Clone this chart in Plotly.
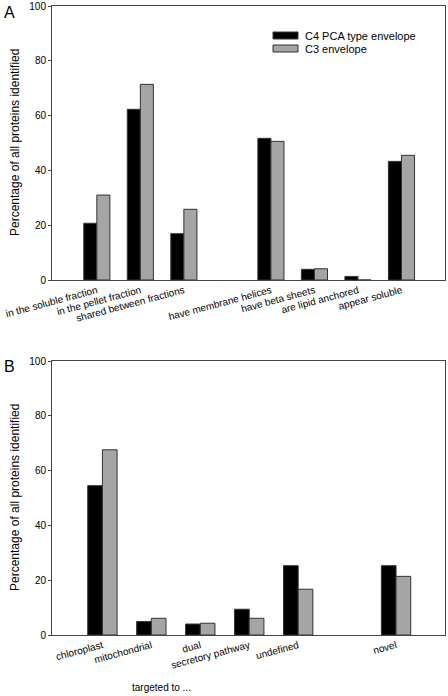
import plotly.graph_objects as go

# ---- data ----
series_names = ["C4 PCA type envelope", "C3 envelope"]

cats_a = ["in the soluble fraction", "in the pellet fraction", "shared between fractions",
          "have membrane helices", "have beta sheets", "are lipid anchored", "appear soluble"]
c4_a = [20.7, 62.3, 16.9, 51.7, 3.9, 1.3, 43.3]
c3_a = [31.0, 71.4, 25.8, 50.6, 4.1, 0.0, 45.5]

cats_b = ["chloroplast", "mitochondrial", "dual", "secretory pathway", "undefined", "novel"]
c4_b = [54.5, 4.9, 4.0, 9.4, 25.3, 25.3]
c3_b = [67.6, 6.1, 4.3, 6.1, 16.7, 21.4]

y_ticks = [0, 20, 40, 60, 80, 100]

# category order with an empty slot (gap) between groups
order_a = cats_a[:3] + [" "] + cats_a[3:]
order_b = cats_b[:5] + ["  "] + cats_b[5:]

colors = ["#000000", "#a5a5a5"]
FONT = "Arial, Liberation Sans, sans-serif"
W, H = 448, 696


def px(x):
    return x / W


def py(y):
    return 1 - y / H


fig = go.Figure()
for name, vals, col in [(series_names[0], c4_a, colors[0]), (series_names[1], c3_a, colors[1])]:
    fig.add_trace(go.Bar(x=cats_a, y=vals, name=name, marker=dict(color=col, line=dict(color="#333333", width=1)),
                         xaxis="x", yaxis="y", showlegend=False))
for name, vals, col in [(series_names[0], c4_b, colors[0]), (series_names[1], c3_b, colors[1])]:
    fig.add_trace(go.Bar(x=cats_b, y=vals, name=name, marker=dict(color=col, line=dict(color="#333333", width=1)),
                         xaxis="x2", yaxis="y2", showlegend=False))

axis_common = dict(showline=True, linecolor="#444444", linewidth=1, mirror=True, showgrid=False,
                   zeroline=False, automargin=False, tickfont=dict(family=FONT, size=10, color="black"))

fig.update_layout(
    width=W, height=H, margin=dict(l=0, r=0, t=0, b=0, autoexpand=False),
    paper_bgcolor="white", plot_bgcolor="white",
    barmode="group", bargap=0.4, bargroupgap=0,
    font=dict(family=FONT, color="black"),
    xaxis=dict(domain=[px(52), px(445)], anchor="y", type="category", categoryorder="array", categoryarray=order_a,
               range=[-1.03, 8.0], ticks="", tickangle=-15, **axis_common),
    yaxis=dict(domain=[py(280), py(6)], anchor="x", range=[0, 100], tickvals=y_ticks,
               ticks="outside", ticklen=3, tickcolor="#444444", **axis_common),
    xaxis2=dict(domain=[px(52), px(445)], anchor="y2", type="category", categoryorder="array", categoryarray=order_b,
                range=[-1.03, 7.0], ticks="", tickangle=-15, **axis_common),
    yaxis2=dict(domain=[py(635), py(361)], anchor="x2", range=[0, 100], tickvals=y_ticks,
                ticks="outside", ticklen=3, tickcolor="#444444", **axis_common),
)

ann = []
for yc in [143, 498]:
    ann.append(dict(x=px(15), y=py(yc), xref="paper", yref="paper", text="Percentage of all proteins identified",
                    textangle=-90, showarrow=False, font=dict(family=FONT, size=12, color="black"),
                    xanchor="center", yanchor="middle"))
ann.append(dict(x=px(9), y=py(13), xref="paper", yref="paper", text="A", showarrow=False,
                font=dict(family=FONT, size=16, color="black"), xanchor="center", yanchor="middle"))
ann.append(dict(x=px(9), y=py(367), xref="paper", yref="paper", text="B", showarrow=False,
                font=dict(family=FONT, size=16, color="black"), xanchor="center", yanchor="middle"))
ann.append(dict(x=px(161), y=py(687), xref="paper", yref="paper", text="targeted to ...", showarrow=False,
                font=dict(family=FONT, size=10, color="black"), xanchor="center", yanchor="middle"))

# legend (panel A)
shapes = []
for i, (name, col) in enumerate(zip(series_names, colors)):
    yc = 35.5 + i * 13
    shapes.append(dict(type="rect", xref="paper", yref="paper", x0=px(273), x1=px(298),
                       y0=py(yc + 3.5), y1=py(yc - 3.5), fillcolor=col,
                       line=dict(color="#333333", width=1)))
    ann.append(dict(x=px(303), y=py(yc), xref="paper", yref="paper", text=name, showarrow=False,
                    font=dict(family=FONT, size=11, color="black"), xanchor="left", yanchor="middle"))

fig.update_layout(annotations=ann, shapes=shapes)
fig.write_html("out.html", config={"displayModeBar": False},
               post_script="document.body.style.margin='0px';document.body.style.overflow='hidden';")
